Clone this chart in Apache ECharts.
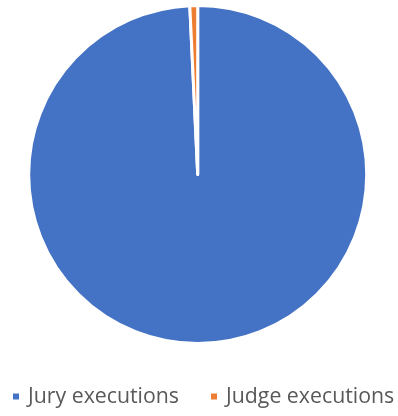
<!DOCTYPE html>
<html>
<head>
<meta charset="utf-8">
<script src="https://cdn.jsdelivr.net/npm/echarts@6/dist/echarts.min.js"></script>
<style>
  html, body { margin: 0; padding: 0; background: #fff; }
  #chart { width: 398px; height: 416px; }
</style>
</head>
<body>
<div id="chart"></div>
<script>
// Share of executions by who imposed the sentence
const categories = ['Jury executions', 'Judge executions'];
const values = [133, 1];
const colors = ['#4472C4', '#ED7D31'];

const chart = echarts.init(document.getElementById('chart'), null, { renderer: 'canvas' });

chart.setOption({
  animation: false,
  color: colors,
  legend: {
    data: categories,
    bottom: 9,
    left: 11,
    width: 398,
    padding: 0,
    icon: 'rect',
    itemWidth: 8,
    itemHeight: 8,
    itemGap: 30,
    textStyle: {
      fontFamily: 'Open Sans',
      fontSize: 21.3,
      color: '#595959',
      padding: [0, 0, 0, 3]
    }
  },
  series: [{
    type: 'pie',
    center: [197.7, 174.5],
    radius: [0, 169],
    startAngle: 90,
    clockwise: true,
    label: { show: false },
    labelLine: { show: false },
    itemStyle: { borderColor: '#ffffff', borderWidth: 3 },
    data: categories.map((name, i) => ({ name, value: values[i] }))
  }]
});
</script>
</body>
</html>
